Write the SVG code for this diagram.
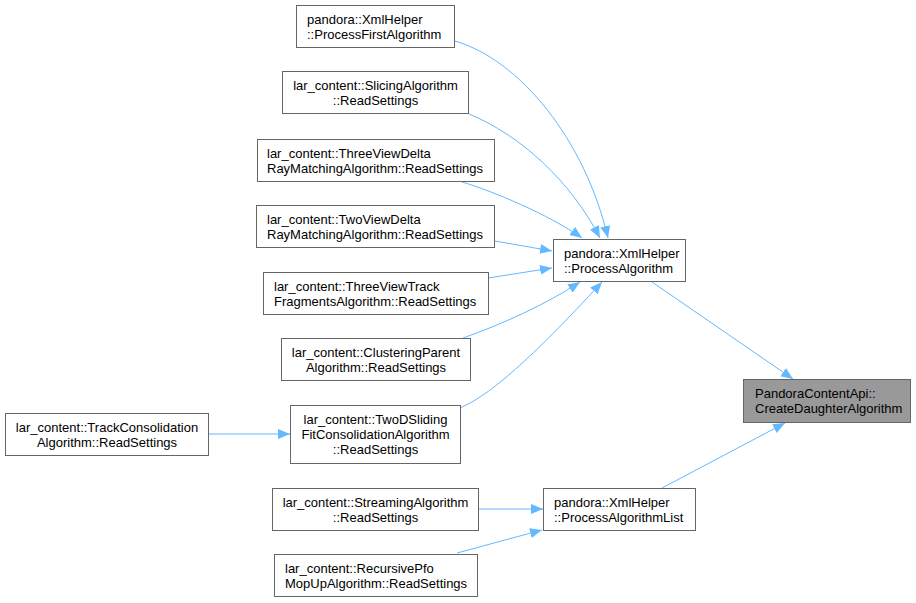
<svg xmlns="http://www.w3.org/2000/svg" width="916" height="603" viewBox="0 0 916 603">
<defs>
<style>
.node rect{fill:#ffffff;stroke:#666666;stroke-width:1}
.node.root rect{fill:#999999}
.node text{font-family:"Liberation Sans",Arial,sans-serif;font-size:13px;fill:#000000}
.c{text-anchor:middle}
.edges path{fill:none;stroke:#63b8ff;stroke-width:1;marker-end:url(#arr)}
</style>
<marker id="arr" markerUnits="userSpaceOnUse" markerWidth="13" markerHeight="11" refX="12" refY="5" orient="auto">
<path d="M0,0 L12,5 L0,10 z" fill="#63b8ff"/>
</marker>
</defs>
<rect width="916" height="603" fill="#ffffff"/>
<g id="edges" class="edges">
<path d="M455,41 C520,60 585,140 608,238"/>
<path d="M469,114 C520,135 570,180 600,238"/>
<path d="M462,182 C490,190 550,215 582,238"/>
<path d="M495,241 L552,251"/>
<path d="M488,278 L552,268"/>
<path d="M463,338 C500,325 545,305 580,282"/>
<path d="M460,408 C490,395 530,360 602,282"/>
<path d="M209,434 L290,434"/>
<path d="M479,509 L543,509"/>
<path d="M457,553 L542,530"/>
<path d="M652,282 L793,379"/>
<path d="M662,488 L785,423"/>
</g>
<g id="n_pfa" class="node"><rect x="296.5" y="5.5" width="158" height="42"/><text x="307" y="24">pandora::XmlHelper</text><text x="307" y="39">::ProcessFirstAlgorithm</text></g>
<g id="n_slicing" class="node"><rect x="282.5" y="71.5" width="186" height="42"/><text class="c" x="375.5" y="90">lar_content::SlicingAlgorithm</text><text class="c" x="375.5" y="105">::ReadSettings</text></g>
<g id="n_tvd" class="node"><rect x="257.5" y="139.5" width="237" height="42"/><text x="267" y="158">lar_content::ThreeViewDelta</text><text x="267" y="173">RayMatchingAlgorithm::ReadSettings</text></g>
<g id="n_twvd" class="node"><rect x="256.5" y="205.5" width="238" height="42"/><text x="267" y="224">lar_content::TwoViewDelta</text><text x="267" y="239">RayMatchingAlgorithm::ReadSettings</text></g>
<g id="n_tvt" class="node"><rect x="263.5" y="272.5" width="225" height="42"/><text x="274" y="291">lar_content::ThreeViewTrack</text><text x="274" y="306">FragmentsAlgorithm::ReadSettings</text></g>
<g id="n_cp" class="node"><rect x="281.5" y="338.5" width="189" height="42"/><text class="c" x="376" y="357">lar_content::ClusteringParent</text><text class="c" x="376" y="372">Algorithm::ReadSettings</text></g>
<g id="n_tds" class="node"><rect x="290.5" y="405.5" width="170" height="58"/><text class="c" x="375.5" y="424">lar_content::TwoDSliding</text><text class="c" x="375.5" y="439">FitConsolidationAlgorithm</text><text class="c" x="375.5" y="454">::ReadSettings</text></g>
<g id="n_tc" class="node"><rect x="5.5" y="413.5" width="203" height="42"/><text class="c" x="107" y="432">lar_content::TrackConsolidation</text><text class="c" x="107" y="447">Algorithm::ReadSettings</text></g>
<g id="n_str" class="node"><rect x="272.5" y="488.5" width="206" height="42"/><text class="c" x="375.5" y="507">lar_content::StreamingAlgorithm</text><text class="c" x="375.5" y="522">::ReadSettings</text></g>
<g id="n_rpfo" class="node"><rect x="274.5" y="554.5" width="203" height="42"/><text x="285" y="573">lar_content::RecursivePfo</text><text x="285" y="588">MopUpAlgorithm::ReadSettings</text></g>
<g id="n_pa" class="node"><rect x="553.5" y="239.5" width="132" height="42"/><text x="564" y="258">pandora::XmlHelper</text><text x="564" y="273">::ProcessAlgorithm</text></g>
<g id="n_pal" class="node"><rect x="543.5" y="488.5" width="152" height="42"/><text x="554" y="507">pandora::XmlHelper</text><text x="554" y="522">::ProcessAlgorithmList</text></g>
<g id="n_pca" class="node root"><rect x="743.5" y="379.5" width="167" height="43"/><text x="755" y="398">PandoraContentApi::</text><text x="755" y="413">CreateDaughterAlgorithm</text></g>
</svg>
